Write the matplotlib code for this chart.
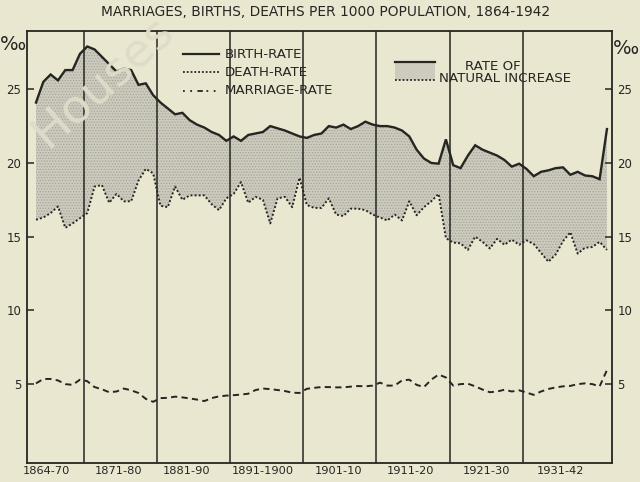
import numpy as np
import matplotlib
matplotlib.use("Agg")
import matplotlib.pyplot as plt
from matplotlib.patches import Rectangle

# ---------------- data ----------------
years = list(range(1864, 1943))

birth_rate = [
    24.1, 25.5, 26.0, 25.6, 26.3, 26.3, 27.4, 27.9, 27.7, 27.2,   # 1864-1873
    26.7, 26.2, 26.4, 26.3, 25.3, 25.4, 24.6, 24.1, 23.7, 23.3,   # 1874-1883
    23.4, 22.9, 22.6, 22.4, 22.1, 21.9, 21.5, 21.8, 21.5, 21.9,   # 1884-1893
    22.0, 22.1, 22.5, 22.35, 22.2, 22.0, 21.8, 21.7, 21.9, 22.0,  # 1894-1903
    22.5, 22.4, 22.6, 22.3, 22.5, 22.8, 22.6, 22.5, 22.5, 22.4,   # 1904-1913
    22.2, 21.8, 20.9, 20.3, 20.0, 19.95, 21.6, 19.85, 19.65, 20.5,  # 1914-1923
    21.2, 20.9, 20.7, 20.5, 20.2, 19.75, 19.95, 19.6, 19.1, 19.4,   # 1924-1933
    19.5, 19.65, 19.7, 19.2, 19.4, 19.15, 19.1, 18.9, 22.3,         # 1934-1942
]

death_rate = [
    16.15, 16.3, 16.6, 17.05, 15.6, 15.9, 16.25, 16.6, 18.4, 18.5,  # 1864-1873
    17.3, 17.9, 17.4, 17.4, 18.8, 19.6, 19.3, 17.1, 17.0, 18.4,     # 1874-1883
    17.5, 17.8, 17.8, 17.8, 17.2, 16.8, 17.6, 17.9, 18.7, 17.3,     # 1884-1893
    17.7, 17.5, 15.9, 17.6, 17.7, 17.0, 19.0, 17.15, 16.95, 16.95,  # 1894-1903
    17.6, 16.5, 16.4, 16.9, 16.9, 16.8, 16.5, 16.3, 16.1, 16.5,     # 1904-1913
    16.1, 17.4, 16.45, 17.0, 17.4, 17.9, 14.9, 14.6, 14.55, 14.1,   # 1914-1923
    15.0, 14.65, 14.2, 14.85, 14.45, 14.8, 14.45, 14.75, 14.5, 13.9,  # 1924-1933
    13.3, 13.8, 14.7, 15.3, 13.85, 14.25, 14.3, 14.65, 14.1,        # 1934-1942
]

marriage_rate = [
    5.05, 5.35, 5.35, 5.25, 5.0, 4.95, 5.3, 5.2, 4.8, 4.65,     # 1864-1873
    4.45, 4.5, 4.7, 4.58, 4.4, 4.0, 3.8, 4.05, 4.07, 4.15,      # 1874-1883
    4.1, 4.03, 3.95, 3.85, 4.05, 4.17, 4.22, 4.25, 4.29, 4.35,  # 1884-1893
    4.6, 4.7, 4.66, 4.6, 4.53, 4.42, 4.4, 4.68, 4.75, 4.8,      # 1894-1903
    4.8, 4.78, 4.78, 4.83, 4.87, 4.85, 4.9, 5.1, 4.9, 4.9,      # 1904-1913
    5.25, 5.3, 4.95, 4.8, 5.3, 5.65, 5.45, 4.9, 5.0, 5.03,      # 1914-1923
    4.85, 4.63, 4.45, 4.5, 4.62, 4.5, 4.58, 4.43, 4.27, 4.5,    # 1924-1933
    4.67, 4.78, 4.85, 4.88, 5.0, 5.05, 5.0, 4.85, 5.95,         # 1934-1942
]

period_labels = ["1864-70", "1871-80", "1881-90", "1891-1900",
                 "1901-10", "1911-20", "1921-30", "1931-42"]
period_bounds = [1870.5, 1880.5, 1890.5, 1900.5, 1910.5, 1920.5, 1930.5]
y_ticks = [5, 10, 15, 20, 25]

# ---------------- style ----------------
BG = "#e9e7d0"
INK = "#262522"
FILL = "#cccbbe"
plt.rcParams["font.family"] = ["DejaVu Sans"]
plt.rcParams["hatch.color"] = "#a5a498"
plt.rcParams["hatch.linewidth"] = 0.6

fig = plt.figure(figsize=(6.4, 4.82), dpi=100, facecolor=BG)
ax = fig.add_axes([27 / 640, 1 - 463 / 482, 585 / 640, 432 / 482])
ax.set_facecolor(BG)

x0, x1 = 1862.77, 1942.69
ax.set_xlim(x0, x1)
ax.set_ylim(-0.35, 28.95)

yrs = np.array(years, dtype=float)
b = np.array(birth_rate)
d = np.array(death_rate)
m = np.array(marriage_rate)

# faint watermark
fig.text(0.16, 0.83, "Houses", rotation=42, fontsize=34, color="#dedcc8",
         ha="center", va="center", zorder=0)

# natural increase shading
ax.fill_between(yrs, d, b, facecolor=FILL, edgecolor="none", hatch="......",
                linewidth=0, zorder=1)

for xb in period_bounds:
    ax.axvline(xb, color=INK, lw=1.1, zorder=2)

ax.plot(yrs, b, color=INK, lw=1.7, solid_joinstyle="miter", zorder=4)
ax.plot(yrs, d, color=INK, lw=1.4, linestyle=(0, (1, 1.1)), zorder=4)
ax.plot(yrs, m, color=INK, lw=1.4, linestyle=(0, (3.2, 2.2)), zorder=4)

for s in ax.spines.values():
    s.set_color(INK)
    s.set_linewidth(1.3)

# y ticks on both sides, pointing inwards
ax.set_yticks(y_ticks)
ax.set_yticklabels([str(v) for v in y_ticks])
ax.tick_params(axis="y", which="both", direction="in", length=5, width=1.1,
               colors=INK, labelsize=8.5, left=True, right=True,
               labelleft=True, labelright=True, pad=4)
ax.set_xticks([])

# period labels under the axis
label_pos = [1865.4, 1875.3, 1884.6, 1895.0, 1905.4, 1915.1, 1925.5, 1935.6]
for lx, lab in zip(label_pos, period_labels):
    ax.annotate(lab, xy=(lx, 0), xycoords=("data", "axes fraction"),
                xytext=(0, -6), textcoords="offset points",
                ha="center", va="center", fontsize=8.2, color=INK,
                annotation_clip=False)

# per-mille signs
fig.text(13 / 640, 1 - 45 / 482, "‰", fontsize=14, color=INK, ha="center", va="center")
fig.text(626 / 640, 1 - 48 / 482, "‰", fontsize=14, color=INK, ha="center", va="center")

# title
fig.text(326 / 640, 1 - 12 / 482, "MARRIAGES, BIRTHS, DEATHS PER 1000 POPULATION, 1864-1942",
         fontsize=9.9, color=INK, ha="center", va="center")

# ---------------- legends (drawn by hand) ----------------
def ax_frac(px, py):
    return (px - 27) / 585, (463 - py) / 432

LEG_FS = 9.6
tr = ax.transAxes
for py, ls, lw, lab in [(54, "-", 1.6, "BIRTH-RATE"),
                        (72, (0, (1, 1.1)), 1.3, "DEATH-RATE"),
                        (91, (0, (1, 3, 1, 3, 3, 2)), 1.3, "MARRIAGE-RATE")]:
    xa, ya = ax_frac(183, py)
    xb_, _ = ax_frac(219, py)
    ax.plot([xa, xb_], [ya, ya], transform=tr, color=INK, lw=lw, linestyle=ls,
            zorder=5, clip_on=False)
    xt, _ = ax_frac(225, py)
    ax.text(xt, ya, lab, transform=tr, fontsize=LEG_FS, color=INK, ha="left",
            va="center", zorder=5)

rx0, ry0 = ax_frac(395, 80)
rx1, ry1 = ax_frac(435, 62)
ax.add_patch(Rectangle((rx0, ry0), rx1 - rx0, ry1 - ry0, transform=tr,
                       facecolor=FILL, edgecolor="none", hatch="......", zorder=5))
ax.plot([rx0, rx1], [ry1, ry1], transform=tr, color=INK, lw=1.6, zorder=6)
ax.plot([rx0, rx1], [ry0, ry0], transform=tr, color=INK, lw=1.3,
        linestyle=(0, (1, 1.1)), zorder=6)
tx, ty = ax_frac(493, 66)
ax.text(tx, ty, "RATE OF", transform=tr, fontsize=LEG_FS, color=INK,
        ha="center", va="center", zorder=6)
tx, ty = ax_frac(439, 79)
ax.text(tx, ty, "NATURAL INCREASE", transform=tr, fontsize=LEG_FS, color=INK,
        ha="left", va="center", zorder=6)

fig.savefig("out.png", dpi=100, facecolor=BG)
